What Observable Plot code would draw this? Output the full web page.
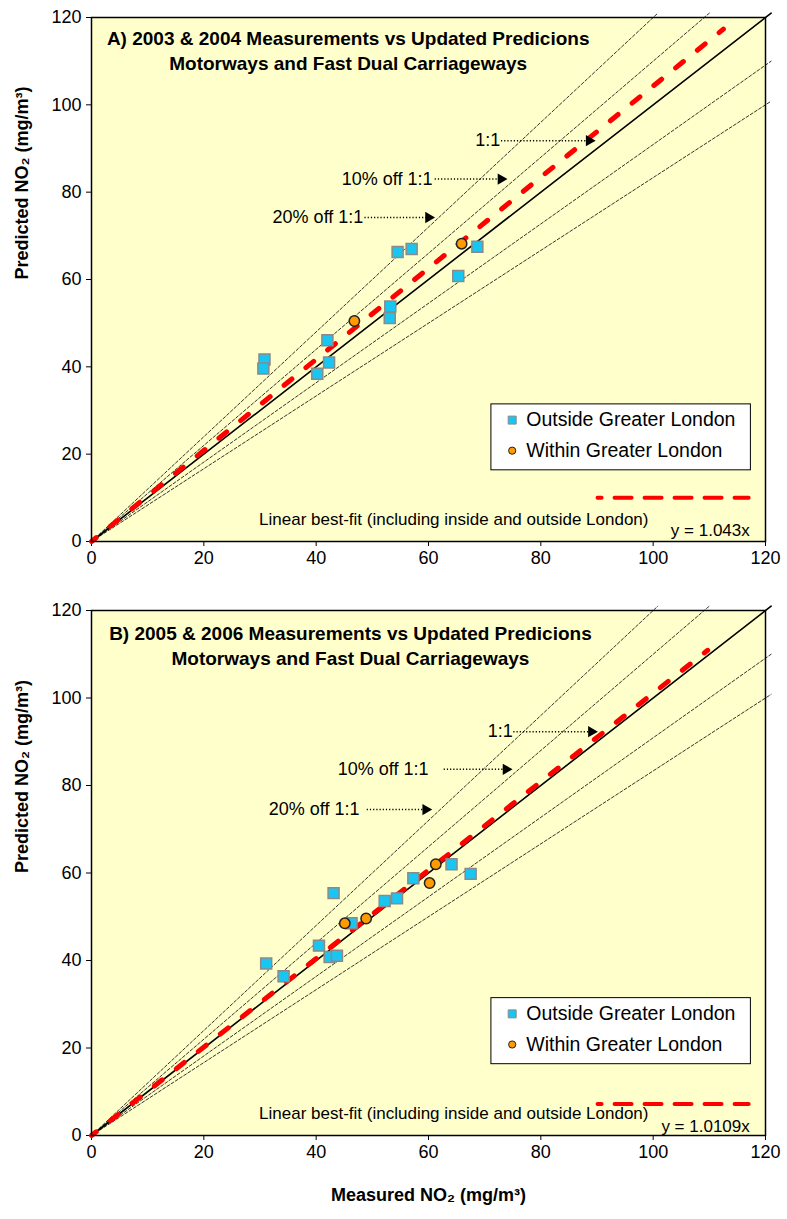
<!DOCTYPE html>
<html>
<head>
<meta charset="utf-8">
<script src="https://cdn.jsdelivr.net/npm/d3@7"></script>
<script src="https://cdn.jsdelivr.net/npm/@observablehq/plot@0.6"></script>
<style>
  html, body { margin: 0; padding: 0; background: white; }
  #chart { width: 787px; }
  svg { display: block; overflow: visible; }
</style>
</head>
<body>
<div id="chart"></div>
<script>
// ---------- Data ----------
const xTicks = [0, 20, 40, 60, 80, 100, 120];
const yTicks = [0, 20, 40, 60, 80, 100, 120];

// Panel A (2003 & 2004)
const outsideA_x = [30.8, 30.6, 42.0, 42.3, 40.2, 54.5, 57.0, 53.2, 53.1, 65.3, 68.7];
const outsideA_y = [41.7, 39.6, 46.1, 41.0, 38.4, 66.3, 67.0, 53.8, 51.2, 60.8, 67.5];
const withinA_x = [46.8, 65.9];
const withinA_y = [50.5, 68.2];
const fitSlopeA = 1.043;
const fitEndA = 112.5;

// Panel B (2005 & 2006)
const outsideB_x = [31.1, 34.2, 40.5, 43.1, 42.4, 43.7, 46.3, 52.2, 54.4, 57.3, 64.1, 67.5];
const outsideB_y = [39.3, 36.4, 43.4, 55.4, 40.8, 41.1, 48.5, 53.6, 54.2, 58.8, 62.0, 59.8];
const withinB_x = [45.1, 48.9, 61.3, 60.2];
const withinB_y = [48.5, 49.6, 62.0, 57.7];
const fitSlopeB = 1.0109;
const fitEndB = 109.7;

// Reference lines: 1:1, ±10%, ±20%
const refSlopes = [1.2, 1.1, 1 / 1.1, 1 / 1.2];
const oneToOne = 1;
const refLimit = 121;

const titlesA = ["A) 2003 & 2004 Measurements vs Updated Predicions", "Motorways and Fast Dual Carriageways"];
const titlesB = ["B) 2005 & 2006 Measurements vs Updated Predicions", "Motorways and Fast Dual Carriageways"];
const legendLabels = ["Outside Greater London", "Within Greater London"];
const fitLabel = "Linear best-fit (including inside and outside London)";
const eqA = "y = 1.043x";
const eqB = "y = 1.0109x";
const annLabels = ["1:1", "10% off 1:1", "20% off 1:1"];

// ---------- Layout (annotation anchors, in data units) ----------
const annA = [
  {label: annLabels[0], tx: 72.8, ty: 91.8, x1: 72.9, x2: 88.6},
  {label: annLabels[1], tx: 60.7, ty: 83.0, x1: 61.1, x2: 72.9},
  {label: annLabels[2], tx: 48.4, ty: 74.2, x1: 48.6, x2: 60.0}
];
const annB = [
  {label: annLabels[0], tx: 75.0, ty: 92.3, x1: 75.1, x2: 89.0},
  {label: annLabels[1], tx: 60.0, ty: 83.7, x1: 62.7, x2: 73.8},
  {label: annLabels[2], tx: 47.7, ty: 74.5, x1: 49.0, x2: 59.5}
];

const FONT = "'Liberation Sans', Arial, sans-serif";
const bg = "#FFFFCC";
const cyan = "#19C6F2";
const orange = "#FF9A00";

function refLine(s) {
  const xe = Math.min(refLimit, refLimit / s);
  return [{x: 0, y: 0}, {x: xe, y: s * xe}];
}

function panel({outX, outY, inX, inY, slope, fitEnd, fitStart, titles, titleX, titleY, eq, eqY, ann, height, marginTop, marginBottom, xLabel, sampleY, fitTextY}) {
  const outside = outX.map((x, i) => ({x, y: outY[i]}));
  const within = inX.map((x, i) => ({x, y: inY[i]}));
  const fit = [{x: fitStart, y: slope * fitStart}, {x: fitEnd, y: slope * fitEnd}];
  const marks = [
    Plot.frame({fill: bg}),
    Plot.axisX({ticks: xTicks, tickSize: 5, tickPadding: 5, label: null, fontSize: 18}),
    Plot.axisY({ticks: yTicks, tickSize: 5, tickPadding: 5, label: null, fontSize: 18}),
    ...refSlopes.map(s => Plot.line(refLine(s), {x: "x", y: "y", stroke: "black", strokeWidth: 0.8, strokeDasharray: "3,2"})),
    Plot.line(refLine(oneToOne), {x: "x", y: "y", stroke: "black", strokeWidth: 1.6}),
    Plot.line(fit, {x: "x", y: "y", stroke: "#FF0000", strokeWidth: 5, strokeDasharray: "10,18", strokeDashoffset: 4}),
    // points
    Plot.dot(outside, {x: "x", y: "y", symbol: "square", r: 6.2, fill: cyan, stroke: "#8A8A8A", strokeWidth: 1.5}),
    Plot.dot(within, {x: "x", y: "y", symbol: "circle", r: 5.2, fill: orange, stroke: "#222", strokeWidth: 1.5}),
    // titles
    Plot.text([titles[0]], {x: titleX, y: titleY, text: d => d, fontWeight: "bold", fontSize: 19, fill: "black"}),
    Plot.text([titles[1]], {x: titleX, y: titleY - 5.7, text: d => d, fontWeight: "bold", fontSize: 19, fill: "black"}),
    // annotations
    Plot.text(ann, {x: "tx", y: "ty", text: "label", textAnchor: "end", fontSize: 18, fill: "black"}),
    Plot.link(ann, {x1: "x1", x2: "x2", y1: "ty", y2: "ty", stroke: "black", strokeWidth: 1.5, strokeDasharray: "1.2,2"}),
    Plot.dot(ann, {x: "x2", y: "ty", symbol: "triangle", r: 4.2, rotate: 90, fill: "black", stroke: null}),
    // legend box
    Plot.rect([0], {x1: 71.2, x2: 117.4, y1: 16.3, y2: 31.4, fill: "white", stroke: "black", strokeWidth: 1}),
    Plot.dot([0], {x: 74.9, y: 27.8, symbol: "square", r: 4.5, fill: cyan, stroke: "#8A8A8A", strokeWidth: 1}),
    Plot.dot([0], {x: 74.9, y: 20.8, symbol: "circle", r: 3.6, fill: orange, stroke: "#222", strokeWidth: 1}),
    Plot.text([legendLabels[0]], {x: 77.4, y: 27.8, text: d => d, textAnchor: "start", fontSize: 19.5, fill: "black"}),
    Plot.text([legendLabels[1]], {x: 77.4, y: 20.8, text: d => d, textAnchor: "start", fontSize: 19.5, fill: "black"}),
    // fit legend
    Plot.line([{x: 90.1, y: sampleY}, {x: 117.0, y: sampleY}], {x: "x", y: "y", stroke: "#FF0000", strokeWidth: 4, strokeDasharray: "17,13", strokeDashoffset: 13}),
    Plot.text([fitLabel], {x: 64.5, y: fitTextY, text: d => d, fontSize: 17, fill: "black"}),
    Plot.text([eq], {x: 117.2, y: eqY, text: d => d, textAnchor: "end", fontSize: 17, fill: "black"}),
    // y label
    Plot.text(["Predicted NO\u2082 (mg/m\u00B3)"], {frameAnchor: "left", text: d => d, rotate: -90, dx: -69, fontWeight: "bold", fontSize: 18, fill: "black"}),
    Plot.frame({stroke: "black", strokeWidth: 1.5})
  ];
  if (xLabel) {
    marks.push(Plot.text([xLabel], {frameAnchor: "bottom", text: d => d, dy: 65, fontWeight: "bold", fontSize: 18, fill: "black"}));
  }
  return Plot.plot({
    width: 787, height, marginLeft: 91, marginRight: 22, marginTop, marginBottom,
    x: {domain: [0, 120]}, y: {domain: [0, 120]},
    style: {fontFamily: FONT, fontSize: "18px", color: "black", background: "white", overflow: "visible"},
    marks
  });
}

const chart = document.getElementById("chart");
chart.appendChild(panel({
  outX: outsideA_x, outY: outsideA_y, inX: withinA_x, inY: withinA_y,
  slope: fitSlopeA, fitStart: 0, fitEnd: fitEndA, titles: titlesA, titleX: 45.7, titleY: 115.0,
  eq: eqA, eqY: 2.6, ann: annA,
  height: 597, marginTop: 17, marginBottom: 56, xLabel: null, sampleY: 10, fitTextY: 5.0
}));
chart.appendChild(panel({
  outX: outsideB_x, outY: outsideB_y, inX: withinB_x, inY: withinB_y,
  slope: fitSlopeB, fitStart: 0, fitEnd: fitEndB, titles: titlesB, titleX: 46.1, titleY: 114.6,
  eq: eqB, eqY: 2.0, ann: annB,
  height: 622, marginTop: 13, marginBottom: 84, xLabel: "Measured NO\u2082 (mg/m\u00B3)", sampleY: 7.2, fitTextY: 5.0
}));
</script>
</body>
</html>
